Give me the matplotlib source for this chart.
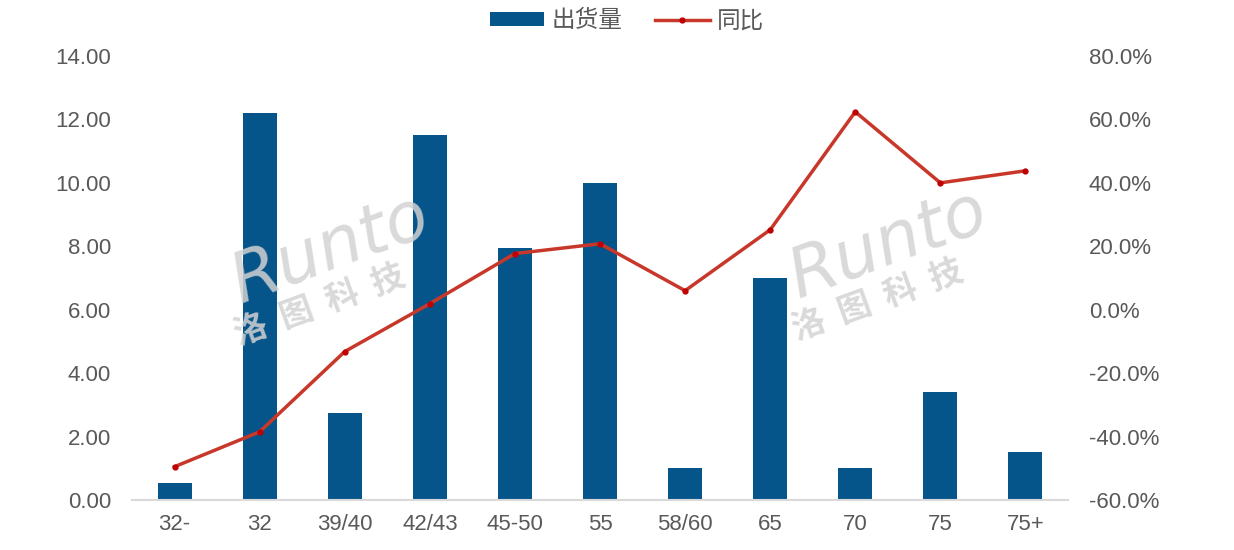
import matplotlib
matplotlib.use("Agg")
import matplotlib.pyplot as plt
from matplotlib import font_manager
from matplotlib.ticker import FuncFormatter, MultipleLocator

categories = ["32-", "32", "39/40", "42/43", "45-50", "55", "58/60", "65", "70", "75", "75+"]
shipments = [0.55, 12.2, 2.75, 11.5, 7.95, 10.0, 1.0, 7.0, 1.02, 3.4, 1.5]
yoy = [-49.5, -38.5, -13.2, 1.9, 17.7, 20.8, 6.0, 25.2, 62.4, 40.0, 43.8]

avail = {f.name for f in font_manager.fontManager.ttflist}
num_font = "Liberation Sans Narrow" if "Liberation Sans Narrow" in avail else "Liberation Sans"
cjk = ["Noto Sans CJK SC", "DejaVu Sans"]

plt.rcParams['font.family'] = [num_font, "Noto Sans CJK SC", "DejaVu Sans"]

BAR = "#06558A"
LINE = "#C8382A"
GRAY = "#595959"

fig = plt.figure(figsize=(12.34, 5.5), dpi=100)
ax = fig.add_axes([132/1234, 50/550, 936/1234, 444/550])
x = list(range(len(categories)))
ax.bar(x, shipments, width=0.4, color=BAR, zorder=2, label="出货量")
ax.set_xlim(-0.5, len(categories) - 0.5)
ax.set_ylim(0, 14)
ax.yaxis.set_major_locator(MultipleLocator(2))
ax.yaxis.set_major_formatter(FuncFormatter(lambda v, p: f"{v:.2f}"))
ax.set_xticks(x)
ax.set_xticklabels(categories)
for s in ["top", "right", "left"]:
    ax.spines[s].set_visible(False)
ax.spines["bottom"].set_color("#D9D9D9")
ax.spines["bottom"].set_linewidth(1.5)
ax.tick_params(axis="both", length=0, colors=GRAY, labelsize=16)
ax.tick_params(axis="y", pad=15)
ax.tick_params(axis="x", pad=10)

ax2 = ax.twinx()
ax2.plot(x, yoy, color=LINE, linewidth=2.5, marker="o", markersize=3.5,
         markerfacecolor="#C00000", markeredgecolor="#C00000", zorder=3, label="同比")
ax2.set_ylim(-60, 80)
ax2.yaxis.set_major_locator(MultipleLocator(20))
ax2.yaxis.set_major_formatter(FuncFormatter(lambda v, p: f"{v:.1f}%"))
for s in ["top", "right", "left", "bottom"]:
    ax2.spines[s].set_visible(False)
ax2.tick_params(axis="y", length=0, colors=GRAY, labelsize=16, pad=15)

h1, l1 = ax.get_legend_handles_labels()
h2, l2 = ax2.get_legend_handles_labels()
leg = fig.legend(h1 + h2, l1 + l2, loc="center", bbox_to_anchor=(0.508, 0.962), ncol=2,
                 frameon=False, prop={"family": cjk, "size": 17}, handlelength=2.3,
                 handleheight=0.5, columnspacing=1.4, handletextpad=0.3)
for t in leg.get_texts():
    t.set_color(GRAY)

# watermarks
for cx, cy in [(330, 250), (888, 245)]:
    fig.text(cx / 1234, 1 - cy / 550, "Runto", rotation=20, fontsize=50, style="italic",
             color="#D3D3D3", alpha=0.85, ha="center", va="center", family="DejaVu Sans", zorder=10)
    fig.text((cx - 10) / 1234, 1 - (cy + 55) / 550, "洛  图  科  技", rotation=20, fontsize=24,
             color="#D3D3D3", alpha=0.85, ha="center", va="center", family=cjk, fontweight="bold", zorder=10)

fig.savefig("out.png", dpi=100)
